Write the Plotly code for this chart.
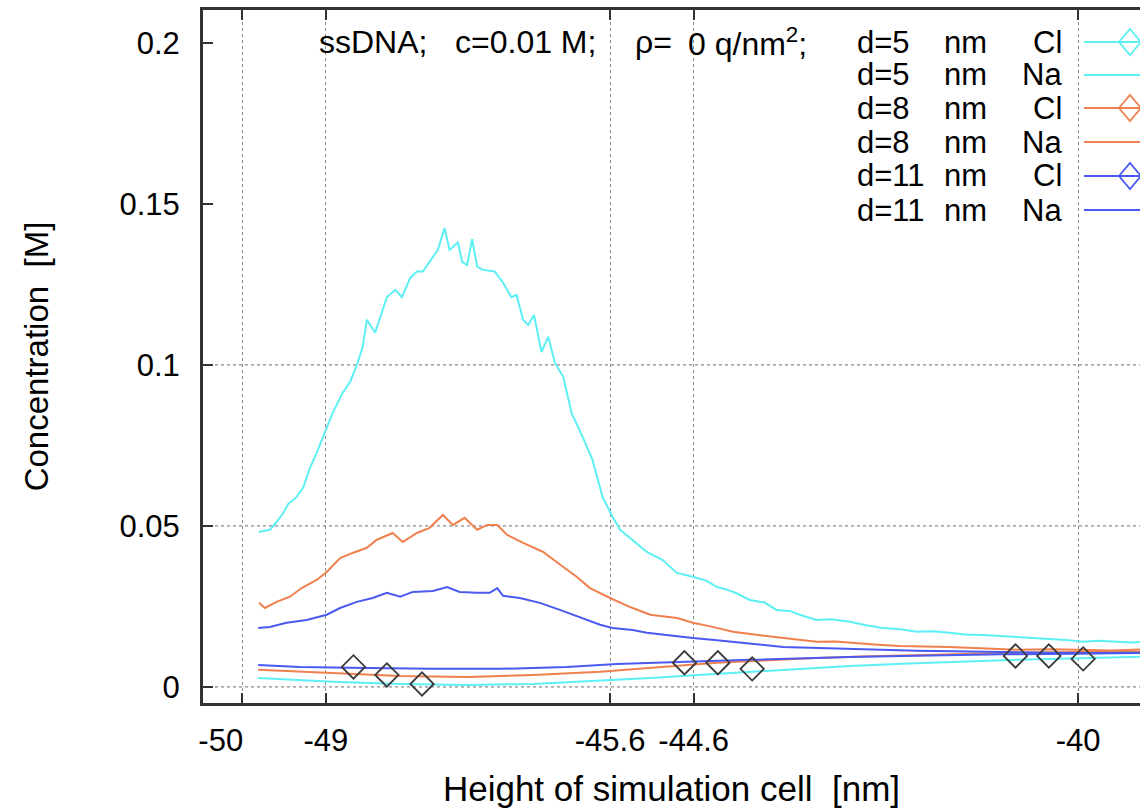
import plotly.graph_objects as go

# ---------------- data ----------------
na5_x = [-49.80,-49.67,-49.59,-49.51,-49.45,-49.35,-49.27,-49.19,-49.11,-49.01,-48.92,-48.80,-48.71,-48.62,-48.56,-48.51,-48.41,-48.27,-48.17,-48.09,-47.99,-47.91,-47.84,-47.76,-47.66,-47.58,-47.52,-47.42,-47.37,-47.31,-47.25,-47.19,-47.12,-46.98,-46.88,-46.78,-46.72,-46.64,-46.58,-46.51,-46.42,-46.34,-46.26,-46.16,-46.06,-45.93,-45.81,-45.69,-45.57,-45.48,-45.33,-45.16,-44.97,-44.80,-44.61,-44.45,-44.32,-44.20,-44.08,-43.93,-43.75,-43.61,-43.45,-43.33,-43.13,-42.95,-42.73,-42.55,-42.34,-42.15,-41.93,-41.75,-41.54,-41.35,-41.14,-40.95,-40.73,-40.55,-40.34,-40.15,-39.94,-39.75,-39.54,-39.35,-39.0]
na5_y = [0.0481,0.0488,0.0512,0.0540,0.0568,0.0590,0.0620,0.0680,0.0727,0.0789,0.0850,0.0913,0.0947,0.1006,0.1056,0.1140,0.1100,0.1210,0.1233,0.1210,0.1270,0.1290,0.1290,0.1320,0.1357,0.1425,0.1357,0.1380,0.1320,0.1310,0.1390,0.1305,0.1295,0.1290,0.1255,0.1210,0.1217,0.1140,0.1124,0.1155,0.1040,0.1087,0.1006,0.0963,0.0850,0.0777,0.0705,0.0590,0.0528,0.0488,0.0457,0.0419,0.0394,0.0354,0.0342,0.0330,0.0310,0.0302,0.0290,0.0270,0.0262,0.0239,0.0236,0.0224,0.0208,0.0210,0.0202,0.0192,0.0183,0.0180,0.0171,0.0173,0.0168,0.0163,0.0161,0.0158,0.0155,0.0152,0.0149,0.0146,0.0140,0.0143,0.0140,0.0138,0.0145]

na8_x = [-49.80,-49.73,-49.59,-49.43,-49.29,-49.11,-48.99,-48.83,-48.68,-48.51,-48.39,-48.20,-48.08,-47.91,-47.76,-47.60,-47.48,-47.34,-47.19,-47.07,-46.95,-46.83,-46.64,-46.40,-46.24,-46.00,-45.84,-45.60,-45.36,-45.12,-44.80,-44.61,-44.40,-44.13,-43.85,-43.53,-43.30,-43.13,-42.90,-42.73,-42.40,-42.13,-41.80,-41.54,-41.10,-40.73,-40.30,-39.94,-39.60,-39.0]
na8_y = [0.0261,0.0245,0.0264,0.0280,0.0307,0.0332,0.0357,0.0400,0.0416,0.0432,0.0457,0.0478,0.0450,0.0478,0.0494,0.0534,0.0503,0.0525,0.0488,0.0503,0.0503,0.0472,0.0447,0.0419,0.0388,0.0342,0.0307,0.0276,0.0248,0.0224,0.0214,0.0199,0.0188,0.0171,0.0162,0.0152,0.0146,0.0140,0.0141,0.0137,0.0131,0.0127,0.0126,0.0124,0.0119,0.0115,0.0117,0.0115,0.0113,0.0118]

na11_x = [-49.81,-49.67,-49.47,-49.23,-48.99,-48.83,-48.63,-48.44,-48.27,-48.11,-47.96,-47.72,-47.55,-47.40,-47.19,-47.04,-46.95,-46.88,-46.68,-46.44,-46.20,-45.96,-45.72,-45.57,-45.33,-45.16,-44.90,-44.61,-44.35,-44.13,-43.80,-43.53,-43.10,-42.73,-42.30,-41.93,-41.50,-41.14,-40.70,-40.34,-39.90,-39.0]
na11_y = [0.0183,0.0186,0.0199,0.0208,0.0224,0.0245,0.0264,0.0276,0.0292,0.0280,0.0295,0.0298,0.0310,0.0295,0.0292,0.0292,0.0307,0.0283,0.0276,0.0261,0.0239,0.0217,0.0193,0.0183,0.0177,0.0168,0.0160,0.0152,0.0146,0.0140,0.0131,0.0124,0.0121,0.0118,0.0115,0.0112,0.0111,0.0109,0.0107,0.0106,0.0105,0.0106]

cl11_x = [-49.81,-49.31,-48.51,-47.72,-46.92,-46.12,-45.52,-45.12,-44.50,-43.93,-43.30,-42.73,-42.10,-41.54,-40.90,-40.34,-39.70,-39.0]
cl11_y = [0.0068,0.0062,0.0059,0.0056,0.0056,0.0062,0.0071,0.0075,0.0080,0.0084,0.0089,0.0093,0.0096,0.0099,0.0101,0.0102,0.0104,0.0106]

cl8_x = [-49.81,-48.92,-48.11,-47.31,-46.52,-45.72,-45.12,-44.32,-43.70,-43.13,-42.50,-41.93,-41.30,-40.73,-40.00,-39.0]
cl8_y = [0.0053,0.0043,0.0034,0.0031,0.0037,0.0047,0.0059,0.0075,0.0083,0.0090,0.0095,0.0099,0.0103,0.0106,0.0108,0.0110]

cl5_x = [-49.81,-48.92,-48.11,-47.31,-46.52,-45.72,-45.12,-44.50,-43.93,-43.30,-42.73,-42.10,-41.54,-40.90,-40.34,-39.70,-39.0]
cl5_y = [0.0028,0.0016,0.0009,0.0006,0.0009,0.0019,0.0028,0.0038,0.0047,0.0057,0.0065,0.0072,0.0078,0.0083,0.0087,0.0090,0.0095]

# point markers drawn on the Cl curves
mk11_x = [-48.67, -44.71, -40.75]
mk11_y = [0.0062, 0.0075, 0.0096]
mk8_x = [-48.27, -44.31, -40.35]
mk8_y = [0.0037, 0.0075, 0.0096]
mk5_x = [-47.85, -43.90, -39.94]
mk5_y = [0.0009, 0.0056, 0.0087]

x_ticks = [-50, -49, -45.6, -44.6, -40]
x_ticktext = ["-50\u00a0\u00a0\u00a0\u00a0\u00a0", "-49", "-45.6", "-44.6", "-40"]
y_ticks = [0, 0.05, 0.1, 0.15, 0.2]
y_ticktext = ["0", "0.05", "0.1", "0.15", "0.2"]
y_grid = [0, 0.05, 0.1]

header_parts = ["ssDNA;", "c=0.01 M;", "\u03c1=", "0 q/nm<sup>2</sup>;"]
header_px = [317, 453, 633, 686]

legend_d = ["d=5", "d=5", "d=8", "d=8", "d=11", "d=11"]
legend_ion = ["Cl", "Na", "Cl", "Na", "Cl", "Na"]

CYAN = "#5CF0F4"
ORANGE = "#F0804E"
BLUE = "#4A5AF0"
legend_colors = [CYAN, CYAN, ORANGE, ORANGE, BLUE, BLUE]

FONT = "Liberation Sans, Arial, Helvetica, sans-serif"

# ---------------- figure ----------------
W, H = 1140, 808
ML, MR, MT, MB = 203, 0, 10, 105
PW, PH = W - ML - MR, H - MT - MB

def px(xp):
    return (xp - ML) / PW

def py(yp):
    return (H - MB - yp) / PH

fig = go.Figure()

series = [
    (cl5_x, cl5_y, CYAN), (cl8_x, cl8_y, ORANGE), (cl11_x, cl11_y, BLUE),
    (na5_x, na5_y, CYAN), (na8_x, na8_y, ORANGE), (na11_x, na11_y, BLUE),
]
for xs, ys, c in series:
    fig.add_trace(go.Scatter(x=xs, y=ys, mode="lines",
                             line=dict(color=c, width=2), showlegend=False,
                             hoverinfo="skip"))

for xs, ys in [(mk11_x, mk11_y), (mk8_x, mk8_y), (mk5_x, mk5_y)]:
    fig.add_trace(go.Scatter(x=xs, y=ys, mode="markers",
                             marker=dict(symbol="diamond-open", size=18,
                                         color="#3a3a3a", line=dict(width=1.8, color="#3a3a3a")),
                             showlegend=False, hoverinfo="skip"))

shapes = []
for g in y_grid:
    shapes.append(dict(type="line", xref="paper", yref="y", x0=0, x1=1, y0=g, y1=g,
                       line=dict(color="#8a8a8a", width=1.2, dash="dot"), layer="below"))

annotations = []
for t, hx in zip(header_parts, header_px):
    annotations.append(dict(text=t, xref="paper", yref="paper", x=px(hx), y=py(42),
                            xanchor="left", yanchor="middle", showarrow=False,
                            font=dict(size=32, color="black", family=FONT)))

row_y = [42, 75, 108, 142, 176, 210]
for i, (d, ion, c) in enumerate(zip(legend_d, legend_ion, legend_colors)):
    yy = py(row_y[i])
    annotations.append(dict(text=d, xref="paper", yref="paper", x=px(855), y=yy,
                            xanchor="left", yanchor="middle", showarrow=False,
                            font=dict(size=31, color="black", family=FONT)))
    annotations.append(dict(text="nm", xref="paper", yref="paper", x=px(942), y=yy,
                            xanchor="left", yanchor="middle", showarrow=False,
                            font=dict(size=31, color="black", family=FONT)))
    annotations.append(dict(text=ion, xref="paper", yref="paper", x=px(1064), y=yy,
                            xanchor="right", yanchor="middle", showarrow=False,
                            font=dict(size=31, color="black", family=FONT)))
    shapes.append(dict(type="line", xref="paper", yref="paper", x0=px(1084), x1=px(1200),
                       y0=yy, y1=yy, line=dict(color=c, width=2)))
    if ion == "Cl":
        cx, cy = px(1130), yy
        dx, dy = 11 / PW, 13 / PH
        path = f"M {cx-dx},{cy} L {cx},{cy+dy} L {cx+dx},{cy} L {cx},{cy-dy} Z"
        shapes.append(dict(type="path", xref="paper", yref="paper", path=path,
                           line=dict(color=c, width=1.8), fillcolor="rgba(0,0,0,0)"))

fig.update_layout(
    width=W, height=H,
    margin=dict(l=ML, r=MR, t=MT, b=MB),
    paper_bgcolor="white", plot_bgcolor="white",
    showlegend=False,
    font=dict(family=FONT, size=31, color="black"),
    shapes=shapes, annotations=annotations,
    xaxis=dict(
        range=[-50.47, -39.26], tickmode="array", tickvals=x_ticks, ticktext=x_ticktext,
        showgrid=True, gridcolor="#8a8a8a", gridwidth=1.2, griddash="dot",
        ticks="inside", ticklen=10, tickwidth=2, tickcolor="#333",
        showline=True, linecolor="#333", linewidth=3, mirror="ticks",
        zeroline=False, tickfont=dict(size=31), ticklabelstandoff=8,
        title=dict(text="Height of simulation cell\u00a0 [nm]", font=dict(size=35), standoff=22),
        automargin=False,
    ),
    yaxis=dict(
        range=[-0.005, 0.2102], tickmode="array", tickvals=y_ticks, ticktext=y_ticktext,
        showgrid=False, ticks="inside", ticklen=10, tickwidth=2, tickcolor="#333",
        showline=True, linecolor="#333", linewidth=3, mirror=False,
        zeroline=False, tickfont=dict(size=31), ticklabelstandoff=14,
        title=dict(text="Concentration\u00a0 [M]", font=dict(size=33), standoff=61),
        automargin=False,
    ),
)

fig.write_html("out.html")
